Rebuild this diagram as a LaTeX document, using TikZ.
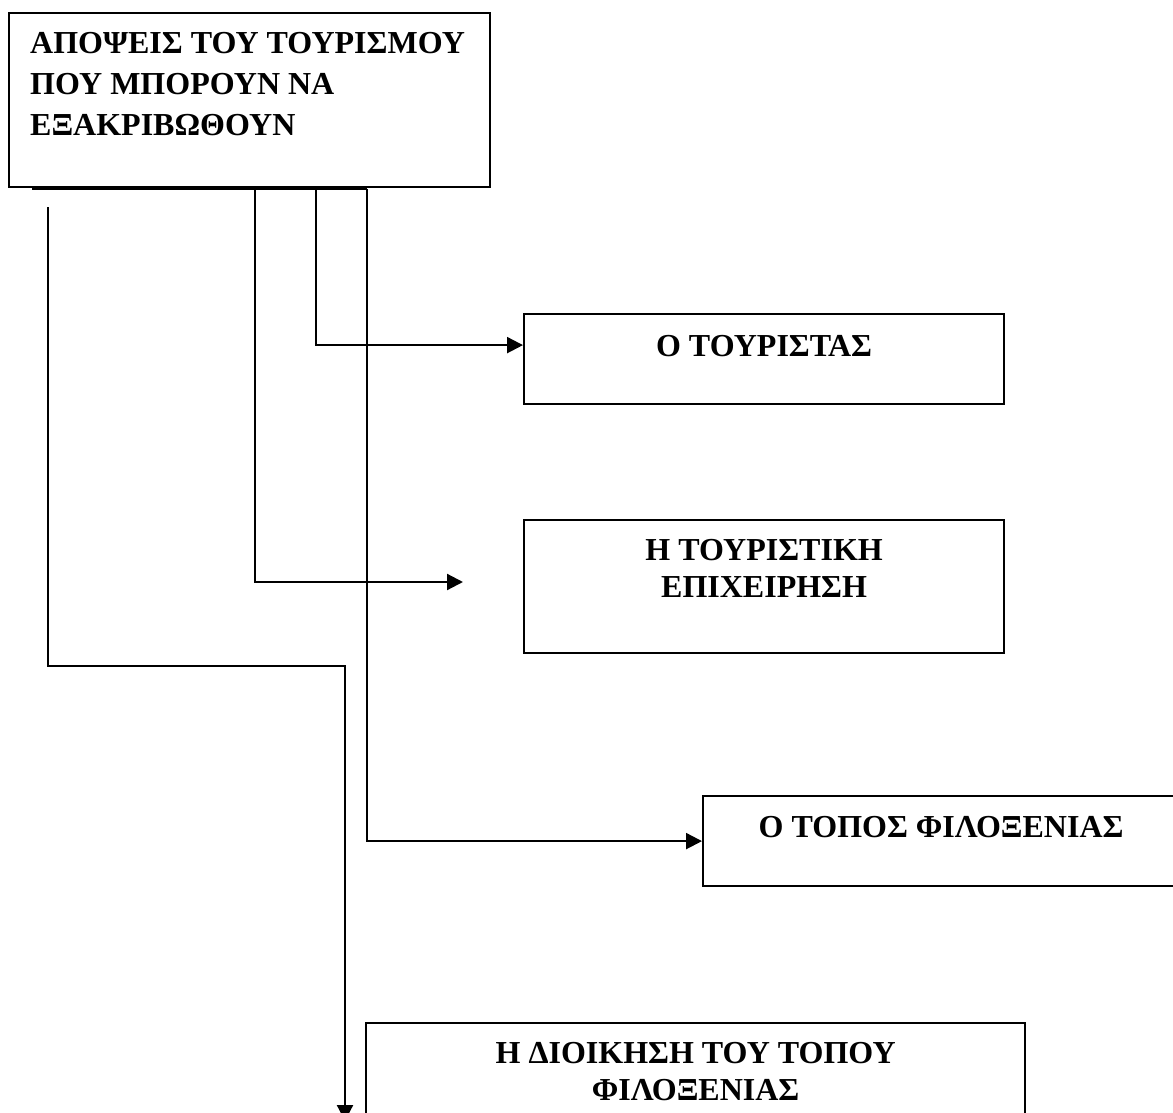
\documentclass[tikz,border=0pt]{standalone}
\usepackage{fontspec}
\setmainfont{Liberation Serif}
\usetikzlibrary{arrows.meta}
\begin{document}
\begin{tikzpicture}[x=1pt,y=-1pt,
  box/.style={draw, line width=2.2pt, rectangle, inner sep=0pt, anchor=north west},
  lbl/.style={font=\fontsize{32}{37}\selectfont\bfseries, align=center, inner sep=0pt, anchor=north},
  conn/.style={line width=2.2pt},
  arr/.style={conn, -{Triangle[length=16pt,width=16pt]}}]
\useasboundingbox (0,0) rectangle (1173,1113);
\clip (0,0) rectangle (1173,1113);
% boxes
\node[box, minimum width=481pt, minimum height=174pt] (top) at (8,12) {};
\node[lbl, align=left, anchor=north west, font=\fontsize{32}{41}\selectfont\bfseries] (toptext) at (30,32)
  {ΑΠΟΨΕΙΣ ΤΟΥ ΤΟΥΡΙΣΜΟΥ\\ΠΟΥ ΜΠΟΡΟΥΝ ΝΑ\\ΕΞΑΚΡΙΒΩΘΟΥΝ};
\node[box, minimum width=480pt, minimum height=90pt] (b1) at (523,313) {};
\node[lbl] (b1t) at ([yshift=-22pt]b1.north) {Ο ΤΟΥΡΙΣΤΑΣ};
\node[box, minimum width=480pt, minimum height=133pt] (b2) at (523,519) {};
\node[lbl] (b2t) at ([yshift=-20pt]b2.north) {Η ΤΟΥΡΙΣΤΙΚΗ\\ΕΠΙΧΕΙΡΗΣΗ};
\node[box, minimum width=476pt, minimum height=90pt] (b3) at (702,795) {};
\node[lbl] (b3t) at ([yshift=-21pt]b3.north) {Ο ΤΟΠΟΣ ΦΙΛΟΞΕΝΙΑΣ};
\node[box, minimum width=659pt, minimum height=200pt] (b4) at (365,1022) {};
\node[lbl] (b4t) at ([yshift=-20pt]b4.north) {Η ΔΙΟΙΚΗΣΗ ΤΟΥ ΤΟΠΟΥ\\ΦΙΛΟΞΕΝΙΑΣ};
% connectors
\coordinate (h0) at (32,189);
\coordinate (j1) at (255,189);
\coordinate (j2) at (316,189);
\coordinate (j3) at (367,189);
\coordinate (a2) at (463,582);
\coordinate (l0) at (48,207);
\coordinate (l1) at (345,666);
\coordinate (l2) at (345,1121);
\draw[conn] (h0) -- (j3);
\draw[arr] (j2) |- ([yshift=14pt]b1.west);
\draw[arr] (j1) |- (a2);
\draw[arr] (j3) |- (b3.west);
\draw[arr] (l0) |- (l1) -- (l2);
\end{tikzpicture}
\end{document}
